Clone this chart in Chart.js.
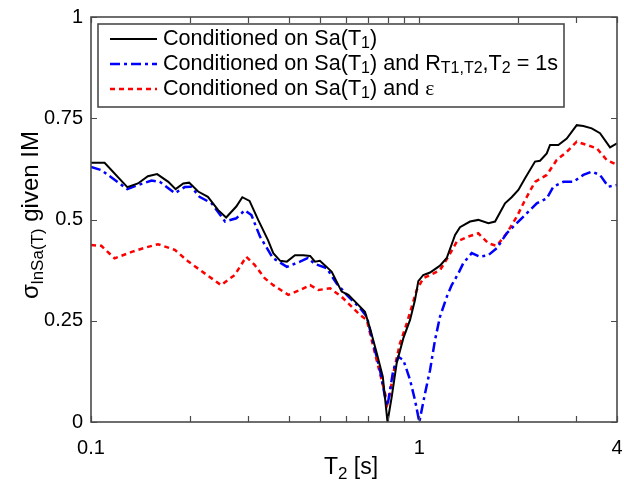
<!DOCTYPE html>
<html>
<head>
<meta charset="utf-8">
<script src="https://cdn.jsdelivr.net/npm/chart.js@4"></script>
<style>
  body { margin: 0; background: #fff; }
</style>
</head>
<body>
<canvas id="myChart" width="624" height="490"></canvas>
<script>
// periods T2 [s] and sigma values
let tBlack = [0.1, 0.11, 0.129, 0.139, 0.149, 0.159, 0.172, 0.181, 0.191, 0.199, 0.212, 0.227, 0.244, 0.258, 0.277, 0.289, 0.304, 0.323, 0.346, 0.359, 0.377, 0.395, 0.418, 0.443, 0.465, 0.481, 0.498, 0.522, 0.541, 0.58, 0.608, 0.645, 0.683, 0.708, 0.742, 0.774, 0.8, 0.824, 0.853, 0.894, 0.937, 0.97, 0.993, 1.028, 1.078, 1.156, 1.212, 1.285, 1.33, 1.427, 1.512, 1.623, 1.701, 1.824, 1.911, 2.003, 2.099, 2.251, 2.332, 2.444, 2.501, 2.651, 2.812, 3.016, 3.159, 3.35, 3.551, 3.809, 4.0];
let sBlack = [0.640, 0.640, 0.580, 0.589, 0.607, 0.612, 0.593, 0.575, 0.589, 0.591, 0.569, 0.556, 0.523, 0.505, 0.532, 0.555, 0.546, 0.499, 0.449, 0.417, 0.398, 0.396, 0.412, 0.412, 0.410, 0.396, 0.398, 0.383, 0.371, 0.322, 0.314, 0.293, 0.272, 0.231, 0.170, 0.112, 0.0, 0.062, 0.145, 0.207, 0.252, 0.301, 0.348, 0.363, 0.369, 0.386, 0.405, 0.462, 0.481, 0.495, 0.499, 0.491, 0.495, 0.540, 0.555, 0.573, 0.602, 0.643, 0.645, 0.663, 0.684, 0.684, 0.700, 0.733, 0.731, 0.725, 0.713, 0.678, 0.688];

let tBlue = [0.1, 0.1075, 0.129, 0.139, 0.153, 0.162, 0.18, 0.193, 0.202, 0.214, 0.233, 0.256, 0.277, 0.294, 0.308, 0.327, 0.346, 0.358, 0.395, 0.433, 0.458, 0.481, 0.522, 0.56, 0.601, 0.66, 0.692, 0.724, 0.759, 0.786, 0.8, 0.833, 0.863, 0.894, 0.937, 0.97, 1.0, 1.041, 1.078, 1.116, 1.156, 1.212, 1.255, 1.315, 1.361, 1.444, 1.531, 1.623, 1.721, 1.846, 1.981, 2.124, 2.279, 2.444, 2.56, 2.746, 2.945, 3.159, 3.35, 3.551, 3.764, 4.0];
let sBlue = [0.630, 0.622, 0.575, 0.585, 0.596, 0.593, 0.565, 0.580, 0.581, 0.556, 0.540, 0.495, 0.503, 0.523, 0.511, 0.458, 0.425, 0.405, 0.383, 0.396, 0.405, 0.390, 0.380, 0.342, 0.314, 0.281, 0.260, 0.194, 0.128, 0.062, 0.040, 0.128, 0.161, 0.153, 0.104, 0.054, 0.0, 0.071, 0.128, 0.202, 0.260, 0.309, 0.338, 0.367, 0.392, 0.417, 0.408, 0.412, 0.429, 0.466, 0.491, 0.515, 0.540, 0.552, 0.581, 0.593, 0.593, 0.610, 0.618, 0.610, 0.581, 0.585];

let tRed = [0.1, 0.1075, 0.118, 0.133, 0.147, 0.16, 0.18, 0.198, 0.222, 0.249, 0.274, 0.297, 0.315, 0.338, 0.359, 0.399, 0.433, 0.465, 0.493, 0.535, 0.58, 0.622, 0.66, 0.692, 0.724, 0.759, 0.8, 0.814, 0.833, 0.873, 0.916, 0.982, 1.028, 1.078, 1.156, 1.225, 1.3, 1.41, 1.512, 1.623, 1.721, 1.846, 1.981, 2.099, 2.251, 2.444, 2.621, 2.812, 3.016, 3.236, 3.47, 3.722, 4.0];
let sRed = [0.437, 0.435, 0.404, 0.420, 0.431, 0.439, 0.425, 0.396, 0.367, 0.338, 0.363, 0.408, 0.388, 0.355, 0.338, 0.314, 0.326, 0.338, 0.326, 0.330, 0.309, 0.285, 0.264, 0.252, 0.186, 0.120, 0.046, 0.071, 0.120, 0.194, 0.244, 0.326, 0.355, 0.363, 0.375, 0.408, 0.445, 0.458, 0.466, 0.441, 0.435, 0.466, 0.507, 0.548, 0.593, 0.610, 0.647, 0.667, 0.692, 0.684, 0.676, 0.647, 0.635];

let xTickValues = [0.1, 0.2, 0.3, 0.4, 0.5, 0.6, 0.7, 0.8, 0.9, 1, 2, 3, 4];
let xLabelValues = [0.1, 1, 4];
let yTickValues = [0, 0.25, 0.5, 0.75, 1];

let fontName = '"Liberation Sans", Arial, sans-serif';
let frameColor = '#4a4a4a';

function toPoints(t, s) {
  let result = [];
  for (var i = 0; i < t.length; i++) {
    result.push({x: t[i], y: s[i]});
  }
  return result;
}

// draws a list of [text, isSub, serif] pieces starting at x, returns end x
function drawPieces(ctx, pieces, x, y, size) {
  for (var i = 0; i < pieces.length; i++) {
    let p = pieces[i];
    let family = p[2] ? '"Liberation Serif", "DejaVu Serif", serif' : fontName;
    if (p[1]) {
      ctx.font = Math.round(size * 0.72) + 'px ' + fontName;
      ctx.fillText(p[0], x, y + size * 0.22);
    } else {
      ctx.font = size + 'px ' + family;
      ctx.fillText(p[0], x, y);
    }
    x += ctx.measureText(p[0]).width;
  }
  return x;
}

function piecesWidth(ctx, pieces, size) {
  let w = 0;
  for (var i = 0; i < pieces.length; i++) {
    let p = pieces[i];
    let family = p[2] ? '"Liberation Serif", "DejaVu Serif", serif' : fontName;
    ctx.font = (p[1] ? Math.round(size * 0.72) : size) + 'px ' + (p[1] ? fontName : family);
    w += ctx.measureText(p[0]).width;
  }
  return w;
}

let legendRows = [
  [['Conditioned on Sa(T', 0], ['1', 1], [')', 0]],
  [['Conditioned on Sa(T', 0], ['1', 1], [') and R', 0], ['T1,T2', 1], [',T', 0], ['2', 1], [' = 1s', 0]],
  [['Conditioned on Sa(T', 0], ['1', 1], [') and ', 0], ['\u03b5', 0, 1]]
];

let decorPlugin = {
  id: 'decor',
  afterDraw(chart) {
    let ctx = chart.ctx;
    let area = chart.chartArea;
    let xs = chart.scales.x;
    let ys = chart.scales.y;
    ctx.save();

    // inward ticks on all four sides
    ctx.strokeStyle = frameColor;
    ctx.lineWidth = 1.2;
    ctx.beginPath();
    xTickValues.forEach(function (v) {
      let px = Math.round(xs.getPixelForValue(v)) + 0.5;
      ctx.moveTo(px, area.bottom); ctx.lineTo(px, area.bottom - 6);
      ctx.moveTo(px, area.top); ctx.lineTo(px, area.top + 6);
    });
    yTickValues.forEach(function (v) {
      let py = Math.round(ys.getPixelForValue(v)) + 0.5;
      ctx.moveTo(area.left, py); ctx.lineTo(area.left + 6, py);
      ctx.moveTo(area.right, py); ctx.lineTo(area.right - 6, py);
    });
    ctx.stroke();

    // frame
    ctx.lineWidth = 1.6;
    ctx.strokeRect(area.left, area.top, area.right - area.left, area.bottom - area.top);

    // legend
    let lx = 98, ly = 24, lw = 466, lh = 83;
    ctx.fillStyle = '#fff';
    ctx.fillRect(lx, ly, lw, lh);
    ctx.strokeStyle = frameColor;
    ctx.lineWidth = 1.6;
    ctx.strokeRect(lx, ly, lw, lh);
    let rowsY = [39, 64, 89];
    chart.data.datasets.forEach(function (ds, i) {
      ctx.strokeStyle = ds.borderColor;
      ctx.lineWidth = ds.borderWidth;
      ctx.setLineDash(ds.borderDash || []);
      ctx.beginPath();
      ctx.moveTo(110, rowsY[i]);
      ctx.lineTo(157, rowsY[i]);
      ctx.stroke();
      ctx.setLineDash([]);
      ctx.fillStyle = '#000';
      ctx.textBaseline = 'middle';
      ctx.textAlign = 'left';
      drawPieces(ctx, legendRows[i], 163, rowsY[i], 21.6);
    });

    // x axis title
    let xt = [['T', 0], ['2', 1], [' [s]', 0]];
    ctx.fillStyle = '#000';
    ctx.textBaseline = 'alphabetic';
    let xw = piecesWidth(ctx, xt, 23);
    drawPieces(ctx, xt, 351 - xw / 2, 474, 23);

    // y axis title, rotated
    let yt = [['\u03c3', 0], ['lnSa(T)', 1], [' given IM', 0]];
    ctx.translate(38, 215);
    ctx.rotate(-Math.PI / 2);
    let yw = piecesWidth(ctx, yt, 24);
    drawPieces(ctx, yt, -yw / 2, 0, 24);
    ctx.restore();
  }
};

function createChart() {
  let ctx = document.getElementById('myChart').getContext('2d');
  let chart = new Chart(ctx, {
    type: 'scatter',
    data: {
      datasets: [
        {
          label: 'Conditioned on Sa(T1)',
          data: toPoints(tBlack, sBlack),
          showLine: true,
          borderColor: '#000000',
          borderWidth: 2,
          pointRadius: 0,
          tension: 0
        },
        {
          label: 'Conditioned on Sa(T1) and RT1,T2,T2 = 1s',
          data: toPoints(tBlue, sBlue),
          showLine: true,
          borderColor: 'rgb(0,0,255)',
          borderWidth: 2.5,
          borderDash: [10, 4, 3, 4],
          pointRadius: 0,
          tension: 0
        },
        {
          label: 'Conditioned on Sa(T1) and \u03b5',
          data: toPoints(tRed, sRed),
          showLine: true,
          borderColor: 'rgb(255,0,0)',
          borderWidth: 2.5,
          borderDash: [5, 4],
          pointRadius: 0,
          tension: 0
        }
      ]
    },
    options: {
      responsive: false,
      animation: false,
      layout: { padding: { left: 0, right: 7, top: 17, bottom: 0 } },
      plugins: {
        legend: { display: false },
        tooltip: { enabled: false }
      },
      scales: {
        x: {
          type: 'logarithmic',
          min: 0.1,
          max: 4,
          afterBuildTicks: function (scale) {
            scale.ticks = xTickValues.map(function (v) { return {value: v}; });
          },
          afterFit: function (scale) {
            scale.height = 68;
            scale.paddingLeft = 0;
            scale.paddingRight = 0;
          },
          grid: { drawOnChartArea: false, drawTicks: false },
          border: { display: false },
          ticks: {
            autoSkip: false,
            maxRotation: 0,
            padding: 14,
            color: '#000',
            font: { family: fontName, size: 20 },
            callback: function (v) {
              return xLabelValues.indexOf(v) >= 0 ? String(v) : '';
            }
          }
        },
        y: {
          min: 0,
          max: 1,
          afterBuildTicks: function (scale) {
            scale.ticks = yTickValues.map(function (v) { return {value: v}; });
          },
          afterFit: function (scale) {
            scale.width = 91;
            scale.paddingTop = 0;
            scale.paddingBottom = 0;
          },
          grid: { drawOnChartArea: false, drawTicks: false },
          border: { display: false },
          ticks: {
            padding: 8,
            color: '#000',
            font: { family: fontName, size: 20 },
            callback: function (v) { return String(v); }
          }
        }
      }
    },
    plugins: [decorPlugin]
  });
  return chart;
}

createChart();
</script>
</body>
</html>
